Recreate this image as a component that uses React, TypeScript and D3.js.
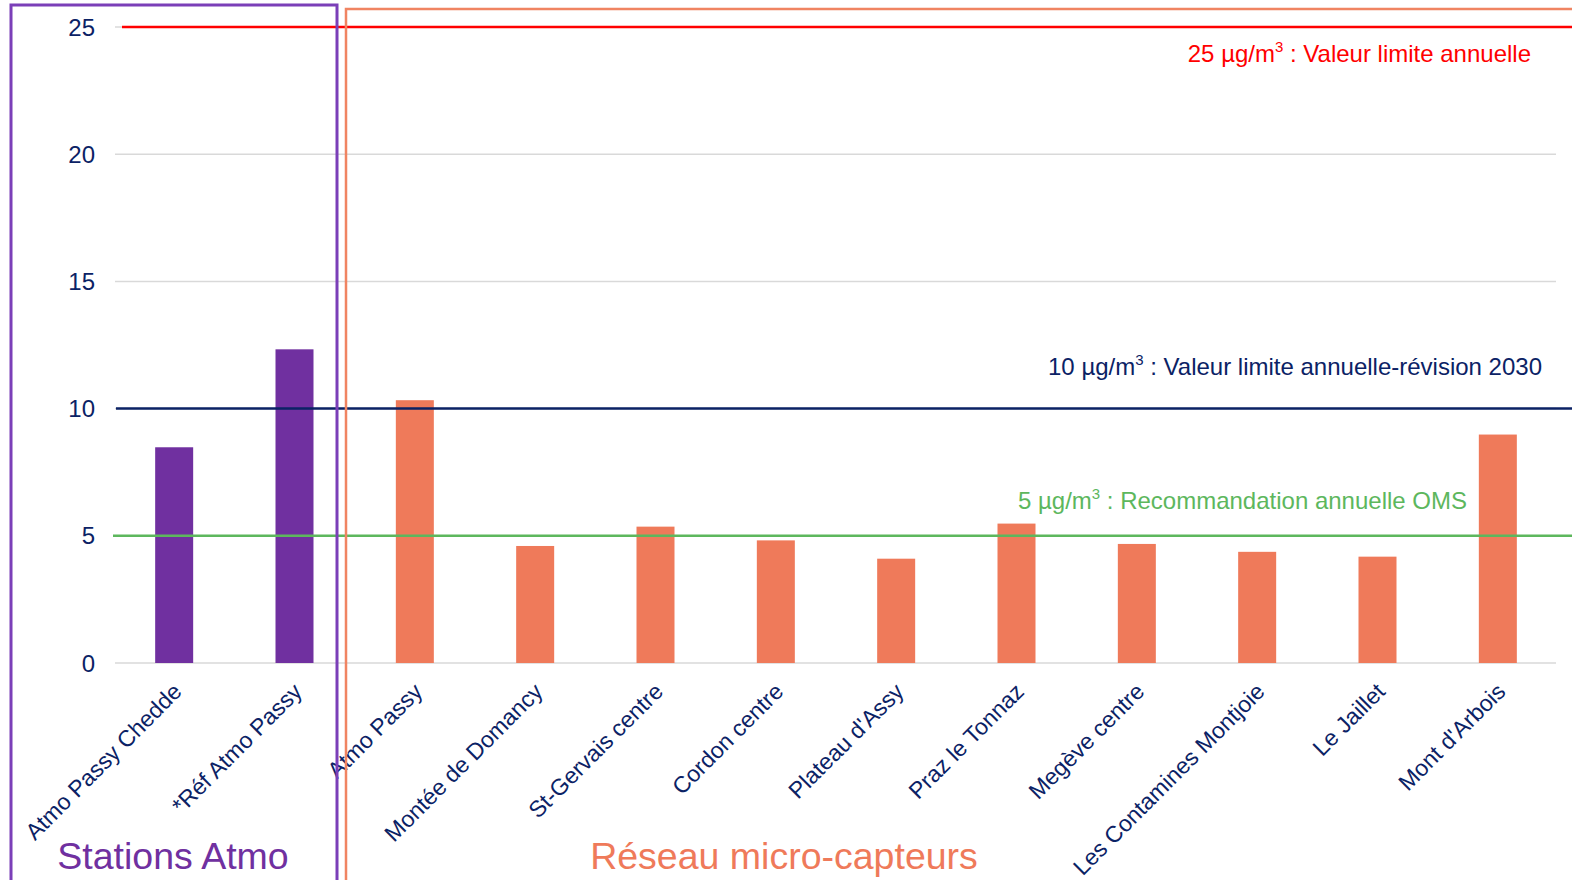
import * as d3 from "d3"

const stations = ["Atmo Passy Chedde", "*Réf Atmo Passy"]
const microSensors = [
  "Atmo Passy",
  "Montée de Domancy",
  "St-Gervais centre",
  "Cordon centre",
  "Plateau d'Assy",
  "Praz le Tonnaz",
  "Megève centre",
  "Les Contamines Montjoie",
  "Le Jaillet",
  "Mont d'Arbois",
]
const stationValues = [8.48, 12.33]
const microValues = [10.33, 4.6, 5.36, 4.82, 4.1, 5.48, 4.68, 4.37, 4.18, 8.98]
const yTicks = [0, 5, 10, 15, 20, 25]

const refLines = [
  { value: 25, color: "#FF0000", pre: "25 µg/m", post: " : Valeur limite annuelle", x0: 122, labelX: 1531, dy: 35 },
  { value: 10, color: "#0B2265", pre: "10 µg/m", post: " : Valeur limite annuelle-révision 2030", x0: 116, labelX: 1542, dy: -34 },
  { value: 5, color: "#5DB75D", pre: "5 µg/m", post: " : Recommandation annuelle OMS", x0: 113, labelX: 1467, dy: -27 },
]

const W = 1572
const H = 880
const FONT = "'Liberation Sans', Arial, sans-serif"
const NAVY = "#0B2265"
const PURPLE = "#7030A0"
const ORANGE = "#EF7A5A"

export default function App() {
  const categories = [...stations, ...microSensors]
  const values = [...stationValues, ...microValues]

  const x = d3.scaleBand<string>().domain(categories).range([114, 1558]).padding(0)
  const y = d3.scaleLinear().domain([0, 25]).range([663, 27])
  const barW = 38

  return (
    <svg
      width={W}
      height={H}
      style={{ position: "absolute", left: 0, top: 0, display: "block", background: "#fff" }}
      fontFamily={FONT}
    >
      {/* gridlines */}
      {yTicks.map((t) => (
        <line key={t} x1={115} x2={1556} y1={y(t)} y2={y(t)} stroke="#D9D9D9" strokeWidth={1.5} />
      ))}
      {yTicks.map((t) => (
        <text key={"l" + t} x={95} y={y(t)} dy="0.36em" textAnchor="end" fontSize={24} fill={NAVY}>
          {t}
        </text>
      ))}

      {/* bars */}
      {categories.map((c, i) => (
        <rect
          key={c}
          x={x(c)! + x.bandwidth() / 2 - barW / 2}
          y={y(values[i])}
          width={barW}
          height={y(0) - y(values[i])}
          fill={i < stations.length ? PURPLE : ORANGE}
        />
      ))}

      {/* reference lines */}
      {refLines.map((r) => (
        <g key={r.value}>
          <line x1={r.x0} x2={W} y1={y(r.value)} y2={y(r.value)} stroke={r.color} strokeWidth={2.5} />
          <text x={r.labelX} y={y(r.value) + r.dy} textAnchor="end" fontSize={24} fill={r.color}>
            {r.pre}
            <tspan fontSize={15} dy={-10}>3</tspan>
            <tspan dy={10}>{r.post}</tspan>
          </text>
        </g>
      ))}

      {/* category labels */}
      {categories.map((c) => {
        const cx = x(c)! + x.bandwidth() / 2 + 9
        const cy = 693
        return (
          <text
            key={"c" + c}
            transform={`translate(${cx},${cy}) rotate(-45)`}
            textAnchor="end"
            fontSize={23}
            fill={NAVY}
          >
            {c}
          </text>
        )
      })}

      {/* group boxes */}
      <rect x={11} y={5} width={326} height={H + 20} fill="none" stroke="#7B3FB8" strokeWidth={3} />
      <rect x={346} y={9} width={W} height={H + 20} fill="none" stroke="#F08462" strokeWidth={2.5} />

      <text x={173} y={869} textAnchor="middle" fontSize={37.5} fill={PURPLE}>
        Stations Atmo
      </text>
      <text x={784} y={869} textAnchor="middle" fontSize={37.5} fill={ORANGE}>
        Réseau micro-capteurs
      </text>
    </svg>
  )
}
